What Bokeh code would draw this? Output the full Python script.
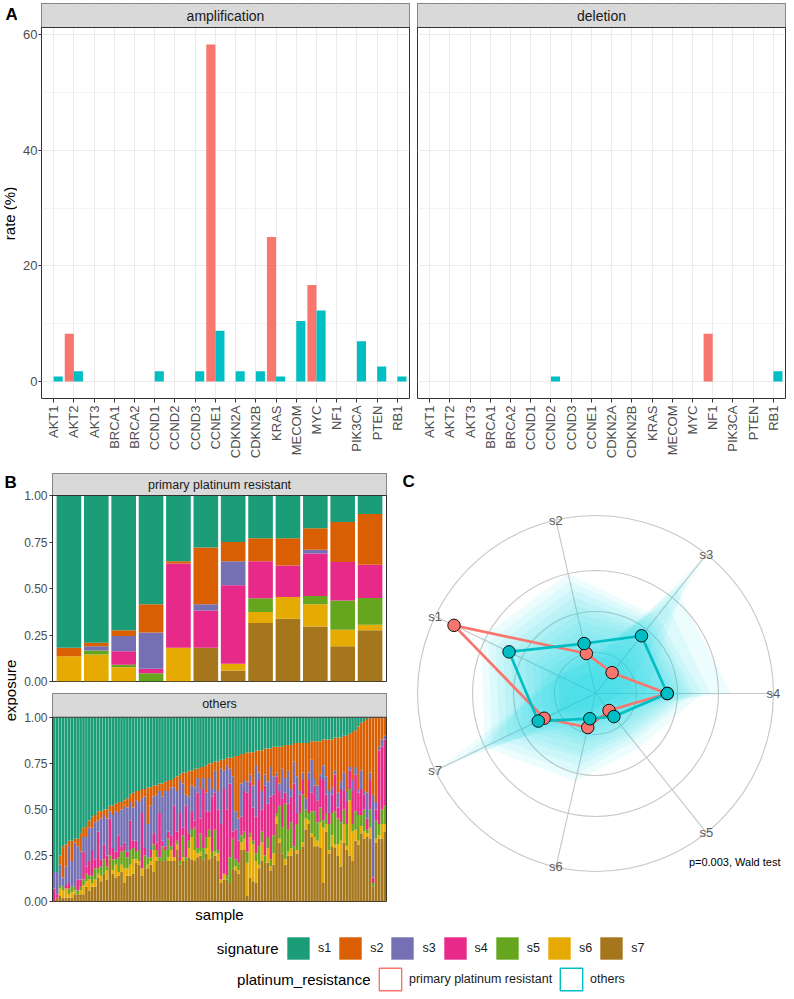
import numpy as np
from bokeh.plotting import figure
from bokeh.models import (Range1d, FixedTicker, Label, Legend, LegendItem,
                          ColumnDataSource, PrintfTickFormatter)
from bokeh.layouts import row, column
from bokeh.transform import dodge
from bokeh.core.properties import value
from bokeh.embed import file_html
from bokeh.resources import INLINE

# ---------------- data ----------------
genes = ["AKT1", "AKT2", "AKT3", "BRCA1", "BRCA2", "CCND1", "CCND2", "CCND3", "CCNE1",
         "CDKN2A", "CDKN2B", "KRAS", "MECOM", "MYC", "NF1", "PIK3CA", "PTEN", "RB1"]
amp_primary = [0, 8.3, 0, 0, 0, 0, 0, 0, 58.3, 0, 0, 25.0, 0, 16.7, 0, 0, 0, 0]
amp_others = [0.9, 1.8, 0, 0, 0, 1.8, 0, 1.8, 8.8, 1.8, 1.8, 0.9, 10.5, 12.3, 0, 7.0, 2.6, 0.9]
del_primary = [0, 0, 0, 0, 0, 0, 0, 0, 0, 0, 0, 0, 0, 0, 8.3, 0, 0, 0]
del_others = [0, 0, 0, 0, 0, 0, 0.9, 0, 0, 0, 0, 0, 0, 0, 0, 0, 0, 1.8]

signatures = ["s1", "s2", "s3", "s4", "s5", "s6", "s7"]
sig_colors = ["#1B9E77", "#D95F02", "#7570B3", "#E7298A", "#66A61E", "#E6AB02", "#A6761D"]

# primary platinum resistant samples (12)
prim_s1 = [.819, .792, .725, .585, .354, .28, .25, .23, .23, .176, .142, .10]
prim_s2 = [.045, .019, .031, .151, .012, .305, .104, .124, .147, .115, .215, .272]
prim_s3 = [0, .022, .081, .196, 0, .033, .129, 0, 0, .021, 0, 0]
prim_s4 = [0, 0, .073, .023, .453, .201, .422, .199, .169, .228, .207, .179]
prim_s5 = [0, .022, .013, .045, 0, 0, 0, .074, 0, .045, .158, .144]
prim_s6 = [.136, .145, .077, 0, .181, 0, .036, .059, .116, .119, .088, .03]
prim_s7 = [0, 0, 0, 0, 0, .181, .059, .314, .338, .296, .19, .275]

# other samples (114)
oth_s1 = [.84, .84, .75, .70, .69, .67, .67, .66, .66, .63,
          .60, .59, .56, .54, .53, .51, .51, .50, .50, .48,
          .48, .47, .46, .46, .45, .44, .42, .41, .40, .40,
          .39, .39, .38, .38, .37, .37, .36, .36, .35, .34, .34, .33,
          .32, .31, .30, .30, .29, .29, .28,
          .28, .27, .27, .26, .25, .25, .24, .24, .23, .23,
          .22, .22, .22, .21, .21, .20, .20, .19, .19, .19,
          .18, .18, .18, .17, .17, .17, .16, .16, .16, .16,
          .15, .15, .15, .14, .14, .14, .14, .14, .14, .13,
          .13, .13, .13, .12, .12, .12, .12, .11, .11, .11,
          .10, .10, .09, .08, .07, .05, .03, .02, .01, 0,
          0, 0, 0, 0, 0]
oth_s2 = [0, 0, .05, .17, .12, .03, .11, .02, .04, .10,
          .05, .06, .04, .06, .04, .05, .04, .03, .05, .03,
          .05, .04, .06, .04, .03, .05, .04, .08, .05, .06,
          .05, .04, .20, .10, .06, .05, .04, .07, .05, .06, .04, .05,
          .08, .03, .06, .12, .14, .08, .10,
          .05, .12, .06, .15, .08, .14, .05, .16, .05, .06,
          .04, .06, .10, .30, .34, .16, .14, .16, .12, .18,
          .08, .12, .22, .14, .18, .10, .16, .14, .20, .12,
          .18, .14, .24, .10, .18, .26, .16, .30, .16, .10,
          .20, .24, .18, .14, .20, .28, .26, .18, .30, .24,
          .20, .30, .18, .26, .20, .34, .26, .38, .40, .30,
          .42, .46, .16, .12, .10]
oth_s3 = [.09, .12, .11, .05, .10, .20, .14, .24, .18, .15,
          .08, .16, .18, .12, .20, .06, .22, .16, .20, .04,
          .18, .22, .12, .20, .20, .24, .10, .18, .22, .26,
          .08, .28, .18, .24, .20, .26, .12, .24, .30, .22, .26, .10,
          .22, .18, .24, .06, .20, .14, .18,
          .08, .16, .06, .10, .18, .04, .12, .10, .30, .10,
          .24, .08, .30, .10, .12, .18, .06, .06, .04, .12,
          .28, .04, .10, .06, .12, .16, .10, .02, .04, .16,
          .08, .18, .04, .12, .20, .02, .04, .06, .04, .18,
          .04, .08, .02, .08, .10, .12, .04, .02, .08, .04,
          .10, .06, .02, .06, .04, .02, .10, .02, .14, .04,
          .45, .04, .02, .04, .02]
oth_s4 = [.07, .02, 0, 0, .02, .03, 0, 0, .06, .04,
          .15, .04, .08, .14, .05, .20, .04, .08, .06, .20,
          .06, .04, .12, .03, .04, .03, .16, .04, .06, 0,
          .30, .04, 0, .04, .06, .04, .24, .03, .02, .04, .06, .28,
          .05, .26, .04, .28, .04, .10, .04,
          .30, .08, .32, .14, .10, .30, .20, .22, .30, .46,
          .36, .40, .04, .16, .12, .10, .22, .32, .28, .18,
          .20, .36, .12, .38, .18, .34, .22, .20, .08, .16,
          .06, .14, .14, .34, .06, .10, .08, 0, .18, .10,
          .14, .12, .16, .22, .10, .06, .10, .20, .06, .18,
          .10, .12, .10, .18, .20, .12, .14, .08, .06, .16,
          .03, .06, .40, .34, .36]
oth_s5 = [0, 0, .02, .02, 0, .03, .03, .02, .02, .02,
          .03, .04, .02, .04, .06, .03, .05, .08, .02, .02,
          .06, .03, .08, .07, .10, .06, .08, .06, .04, .06,
          0, .07, .04, .02, .03, .04, .02, .08, .06, .10, .02, 0,
          .02, .02, .12, .02, .04, .04, .12,
          .03, .10, .06, .06, .04, .03, .12, .02, 0, 0,
          .02, .14, .16, .04, .04, .04, .04, .06, .02, .02,
          .04, .10, .06, .04, .06, .04, .10, .02, .18, .14,
          .30, .12, .14, .02, .14, .20, .26, .05, .04, .12,
          .14, .10, .08, .04, .06, .14, .12, .18, .14, .10,
          .08, .12, .06, .04, .10, .14, .06, .12, .02, .10,
          .02, .10, .06, .08, .10]
oth_s6 = [0, 0, .04, .04, .05, .02, .03, .02, 0, .02,
          .05, .03, .06, .02, .04, .02, .03, 0, .05, 0,
          .02, .07, .02, .04, .08, .04, .06, .08, .02, .02,
          .04, 0, .02, .02, .12, .02, 0, 0, 0, .02, .06, .02,
          .03, 0, .02, 0, .05, .12, .06,
          .02, .02, 0, .03, .12, 0, .02, .04, .02, .03,
          0, 0, 0, .02, .02, .04, .06, .18, .22, .20,
          .12, .02, .10, 0, .08, .02, .06, .04, .02, 0,
          .03, .02, .04, 0, .02, 0, .02, .06, .02, .02,
          .05, .03, .14, .30, .04, .02, .06, .02, .06, .14,
          .10, .02, .30, .16, .06, .02, .04, .04, .02, .06,
          0, .02, .02, .08, .04]
oth_s7 = [0, .02, .03, .02, .02, .02, .02, .04, .04, .04,
          .04, .08, .06, .08, .08, .13, .11, .15, .12, .23,
          .15, .13, .14, .16, .10, .14, .14, .15, .21, .20,
          .14, .18, .18, .20, .16, .22, .22, .22, .22, .22, .22, .22,
          .28, .20, .22, .22, .24, .23, .22,
          .24, .25, .23, .26, .23, .24, .25, .22, .10, .12,
          .12, .10, .18, .17, .15, .28, .28, .03, .13, .11,
          .10, .18, .22, .21, .21, .17, .20, .42, .32, .26,
          .20, .25, .25, .28, .26, .28, .30, .39, .42, .35,
          .30, .30, .29, .10, .38, .26, .30, .29, .25, .19,
          .32, .28, .25, .22, .33, .31, .37, .34, .35, .34,
          .08, .32, .34, .34, .38]

# radar (mean exposure per signature)
radar_primary = [0.383, 0.100, 0.065, 0.175, 0.053, 0.085, 0.139]
radar_others = [0.234, 0.125, 0.180, 0.175, 0.072, 0.063, 0.155]
radar_grid = [0.1, 0.2, 0.3]
radar_outer = 0.434
# spread of the "others" samples (envelopes), s1..s7
cloud_envelopes = [
    [0.06, 0.06, 0.43, 0.07, 0.03, 0.04, 0.10],
    [0.10, 0.05, 0.05, 0.07, 0.03, 0.04, 0.43],
    [0.10, 0.08, 0.32, 0.33, 0.04, 0.05, 0.10],
    [0.10, 0.08, 0.36, 0.12, 0.04, 0.05, 0.36],
    [0.12, 0.10, 0.28, 0.28, 0.06, 0.07, 0.30],
    [0.31, 0.30, 0.24, 0.26, 0.17, 0.22, 0.30],
    [0.29, 0.28, 0.23, 0.24, 0.15, 0.20, 0.28],
    [0.27, 0.26, 0.22, 0.23, 0.14, 0.18, 0.26],
    [0.25, 0.24, 0.21, 0.22, 0.13, 0.16, 0.24],
    [0.23, 0.22, 0.20, 0.21, 0.12, 0.15, 0.22],
    [0.21, 0.20, 0.19, 0.20, 0.11, 0.13, 0.20],
    [0.19, 0.18, 0.18, 0.19, 0.10, 0.12, 0.18],
    [0.17, 0.16, 0.16, 0.17, 0.09, 0.11, 0.16],
    [0.15, 0.14, 0.14, 0.15, 0.08, 0.10, 0.14],
    [0.13, 0.12, 0.12, 0.13, 0.07, 0.08, 0.12],
    [0.10, 0.10, 0.10, 0.10, 0.06, 0.07, 0.10],
]
p_text = "p=0.003, Wald test"

# ---------------- style ----------------
FONT = "Liberation Sans"
RED, TEAL, CLOUD = "#F8766D", "#00BFC4", "#12D6DE"
BORDER, STRIP, GRID, TICKTXT = "#333333", "#D9D9D9", "#EBEBEB", "#4D4D4D"


def new_fig(w, h, l, r, t, b, xr, yr, **kw):
    p = figure(width=w, height=h, x_range=xr, y_range=yr, output_backend="svg",
               toolbar_location=None, title=None, min_border_left=l, min_border_right=r,
               min_border_top=t, min_border_bottom=b, **kw)
    p.outline_line_color = BORDER
    p.outline_line_width = 1
    p.background_fill_color = "white"
    p.border_fill_color = "white"
    return p


def blank_fig(w, h, t=0, b=0):
    p = figure(width=w, height=h, output_backend="svg", toolbar_location=None, title=None,
               x_range=Range1d(0, 1), y_range=Range1d(0, 1),
               x_axis_location=None, y_axis_location=None,
               min_border_left=0, min_border_right=0, min_border_top=t, min_border_bottom=b)
    p.outline_line_color = None
    p.grid.visible = False
    p.background_fill_color = "white"
    p.border_fill_color = "white"
    return p


def lbl(p, x, y, text, size, **kw):
    d = dict(x=x, y=y, x_units="screen", y_units="screen", text=text,
             text_font=FONT, text_font_size=size, text_color="#1A1A1A")
    d.update(kw)
    p.add_layout(Label(**d))


# ---------------- panel A ----------------
A_FRAME_W, A_PLOT_H, A_STRIP_H = 368, 371, 24
A_TOP, A_BOTTOM = 3, 72
a_lo, a_hi = -2.92, 61.25
a_end = a_hi + (a_hi - a_lo) * A_STRIP_H / A_PLOT_H
gene_pos = list(range(1, len(genes) + 1))


def cnv_panel(title, prim_vals, oth_vals, left, right, show_y):
    src = ColumnDataSource(dict(pos=gene_pos, prim=prim_vals, oth=oth_vals))
    p = new_fig(left + A_FRAME_W + right, 470, left, right, A_TOP, A_BOTTOM,
                Range1d(0.4, len(genes) + 0.6), Range1d(a_lo, a_end),
                y_axis_location="left" if show_y else None)
    p.vbar(x=dodge("pos", -0.225), top="prim", width=0.45, source=src,
           fill_color=RED, line_color=None)
    p.vbar(x=dodge("pos", 0.225), top="oth", width=0.45, source=src,
           fill_color=TEAL, line_color=None)
    p.quad(left=[-100], right=[100], bottom=[a_hi], top=[a_end + 50],
           fill_color=STRIP, line_color=BORDER, line_width=1)
    p.xgrid.ticker = FixedTicker(ticks=gene_pos)
    p.xgrid.grid_line_color = GRID
    p.ygrid.ticker = FixedTicker(ticks=[0, 20, 40, 60], minor_ticks=[10, 30, 50])
    p.ygrid.grid_line_color = GRID
    p.ygrid.minor_grid_line_color = GRID
    p.ygrid.minor_grid_line_width = 0.6
    ax = p.xaxis[0]
    ax.ticker = FixedTicker(ticks=gene_pos)
    ax.major_label_overrides = {i: g for i, g in zip(gene_pos, genes)}
    ax.major_label_orientation = np.pi / 2
    ax.major_label_text_font = FONT
    ax.major_label_text_font_size = "13px"
    ax.major_label_text_color = TICKTXT
    ax.major_label_standoff = 3
    ax.axis_line_color = None
    ax.major_tick_line_color = BORDER
    ax.major_tick_out = 4
    ax.major_tick_in = 0
    ax.minor_tick_line_color = None
    if show_y:
        ay = p.yaxis[0]
        ay.ticker = FixedTicker(ticks=[0, 20, 40, 60])
        ay.major_label_text_font = FONT
        ay.major_label_text_font_size = "13px"
        ay.major_label_text_color = TICKTXT
        ay.major_label_standoff = 1
        ay.axis_line_color = None
        ay.major_tick_line_color = BORDER
        ay.major_tick_out = 3
        ay.major_tick_in = 0
        ay.minor_tick_line_color = None
    lbl(p, A_FRAME_W / 2, A_PLOT_H + A_STRIP_H / 2, title, "14px",
        text_align="center", text_baseline="middle")
    return p


# side strip holding the panel letter and the y title (same borders as panel A)
a_side = blank_fig(17, 470, A_TOP, A_BOTTOM)
A_FRAME_H = 470 - A_TOP - A_BOTTOM
lbl(a_side, 5, A_FRAME_H - 1, "A", "17px", text_font_style="bold", text_align="left",
    text_baseline="top", text_color="black")
lbl(a_side, 8.5, (470 - A_BOTTOM) - 213, "rate (%)", "15px", angle=np.pi / 2,
    text_align="center", text_baseline="middle", text_color="black")
amp_fig = cnv_panel("amplification", amp_primary, amp_others, 24, 1, True)
del_fig = cnv_panel("deletion", del_primary, del_others, 7, 8, False)

# ---------------- panel B ----------------
B_FRAME_W, B_PLOT_H = 334, 186


def expo_panel(title, cols, height, top, bottom, strip_h, with_xlabel):
    arr = np.array(cols, dtype=float)
    arr = arr / arr.sum(axis=0)  # position = "fill"
    n = arr.shape[1]
    data = {sig: arr[i] for i, sig in enumerate(signatures)}
    data["pos"] = np.arange(1, n + 1)
    src = ColumnDataSource(data)
    y_end = 1 + strip_h / B_PLOT_H
    p = new_fig(34 + B_FRAME_W + 6, height, 34, 6, top, bottom,
                Range1d(0.4, n + 0.6), Range1d(0, y_end),
                x_axis_location="below" if with_xlabel else None)
    p.vbar_stack(signatures[::-1], x="pos", width=0.9, source=src,
                 fill_color=sig_colors[::-1], line_color=None)
    p.quad(left=[-1000], right=[1000], bottom=[1], top=[y_end + 1],
           fill_color=STRIP, line_color=BORDER, line_width=1)
    p.grid.visible = False
    ay = p.yaxis[0]
    ay.ticker = FixedTicker(ticks=[0, 0.25, 0.5, 0.75, 1.0])
    ay.formatter = PrintfTickFormatter(format="%.2f")
    ay.major_label_text_font = FONT
    ay.major_label_text_font_size = "12px"
    ay.major_label_text_color = TICKTXT
    ay.major_label_standoff = 2
    ay.axis_line_color = None
    ay.major_tick_line_color = BORDER
    ay.major_tick_out = 3
    ay.major_tick_in = 0
    ay.minor_tick_line_color = None
    if with_xlabel:
        ax = p.xaxis[0]
        ax.ticker = FixedTicker(ticks=[])
        ax.axis_line_color = None
        ax.major_tick_out = 0
        ax.minor_tick_line_color = None
        ax.axis_label = "sample"
        ax.axis_label_text_font = FONT
        ax.axis_label_text_font_size = "15px"
        ax.axis_label_text_font_style = "normal"
        ax.axis_label_text_color = "black"
        ax.axis_label_standoff = 4
    lbl(p, B_FRAME_W / 2, B_PLOT_H + strip_h / 2, title, "12.5px",
        text_align="center", text_baseline="middle")
    return p


prim_fig = expo_panel("primary platinum resistant",
                      [prim_s1, prim_s2, prim_s3, prim_s4, prim_s5, prim_s6, prim_s7],
                      222, 3, 11, 22, False)
oth_fig = expo_panel("others",
                     [oth_s1, oth_s2, oth_s3, oth_s4, oth_s5, oth_s6, oth_s7],
                     233, 1, 22, 24, True)

expo_fig = blank_fig(18, 455)
lbl(expo_fig, 9.5, 235, "exposure", "15px", angle=np.pi / 2,
    text_align="center", text_baseline="middle", text_color="black")
lbl(expo_fig, 4, 453, "B", "17px", text_font_style="bold",
    text_align="left", text_baseline="top", text_color="black")

# ---------------- panel C (radar) ----------------
RAD_W, RAD_H = 398, 455
RAD_CX, RAD_CY = 203, 223
PX_PER_UNIT = 410.0
rad = new_fig(RAD_W, RAD_H, 0, 0, 0, 0,
              Range1d(-RAD_CX / PX_PER_UNIT, (RAD_W - RAD_CX) / PX_PER_UNIT),
              Range1d(-(RAD_H - RAD_CY) / PX_PER_UNIT, RAD_CY / PX_PER_UNIT),
              x_axis_location=None, y_axis_location=None)
rad.outline_line_color = None
rad.grid.visible = False
theta = (3 - np.arange(len(signatures))) * 2 * np.pi / len(signatures)


def polar(r):
    r = np.asarray(r, dtype=float)
    return r * np.cos(theta), r * np.sin(theta)


rings = radar_grid + [radar_outer]
rad.circle(x=[0] * len(rings), y=[0] * len(rings), radius=rings,
           fill_color=None, line_color="#C6C6C6", line_width=1.1)
ox, oy = polar([radar_outer] * len(signatures))
rad.segment(x0=[0] * len(signatures), y0=[0] * len(signatures), x1=ox, y1=oy,
            line_color="#C6C6C6", line_width=1.1)
for env in cloud_envelopes:
    ex, ey = polar(env)
    rad.patch(ex, ey, fill_color=CLOUD, fill_alpha=0.075, line_color=None)

for vals, col in ((radar_primary, RED), (radar_others, TEAL)):
    px, py = polar(vals)
    rad.line(np.append(px, px[0]), np.append(py, py[0]), line_color=col,
             line_width=2.7, line_join="round")
for vals, col in ((radar_primary, RED), (radar_others, TEAL)):
    px, py = polar(vals)
    rad.scatter(px, py, size=12.5, fill_color=col, line_color="black", line_width=0.9)

rad.text(x=ox, y=oy, text=signatures, text_font=value(FONT), text_font_size="13px",
         text_color="#5A5A5A", text_align="center", text_baseline="middle")
lbl(rad, 388, 64, p_text, "11px", text_align="right", text_baseline="middle",
    text_color="black")
lbl(rad, 10, 454, "C", "17px", text_font_style="bold", text_align="left",
    text_baseline="top", text_color="black")

# ---------------- legend ----------------
LEG_W, LEG_H = 790, 70          # occupies page rows 925..995
leg = blank_fig(LEG_W, LEG_H)
sig_items = []
for sig, col in zip(signatures, sig_colors):
    # one key glyph placed outside the visible range: only its legend swatch shows
    r = leg.quad(left=[2], right=[3], top=[3], bottom=[2], fill_color=col, line_color=None)
    sig_items.append(LegendItem(label=sig, renderers=[r]))
plat_items = []
for name, col in (("primary platinum resistant", RED), ("others", TEAL)):
    r = leg.quad(left=[2], right=[3], top=[3], bottom=[2], fill_color="white",
                 line_color=col, line_width=1.4)
    plat_items.append(LegendItem(label=name, renderers=[r]))


def make_legend(items, loc, standoff, spacing):
    return Legend(items=items, location=loc, orientation="horizontal",
                  glyph_width=28, glyph_height=28, label_standoff=standoff,
                  label_width=0, spacing=spacing, padding=0, margin=0,
                  border_line_color=None, background_fill_alpha=0,
                  label_text_font=FONT, label_text_font_size="12.5px",
                  label_text_color="#1A1A1A")


ROW1_Y, ROW2_Y = 47, 16          # row centres, px above the legend strip bottom
leg.add_layout(make_legend(sig_items, (284, ROW1_Y - 14), 6, 5), "center")
leg.add_layout(make_legend(plat_items, (376, ROW2_Y - 14), 5, 5), "center")
lbl(leg, 278, ROW1_Y, "signature", "15px", text_align="right",
    text_baseline="middle", text_color="black")
lbl(leg, 370, ROW2_Y, "platinum_resistance", "15px", text_align="right",
    text_baseline="middle", text_color="black")

# ---------------- layout ----------------
layout = column(
    row(a_side, amp_fig, del_fig),
    row(expo_fig, column(prim_fig, oth_fig), rad),
    leg,
)

open("out.html", "w").write(file_html(layout, INLINE))
